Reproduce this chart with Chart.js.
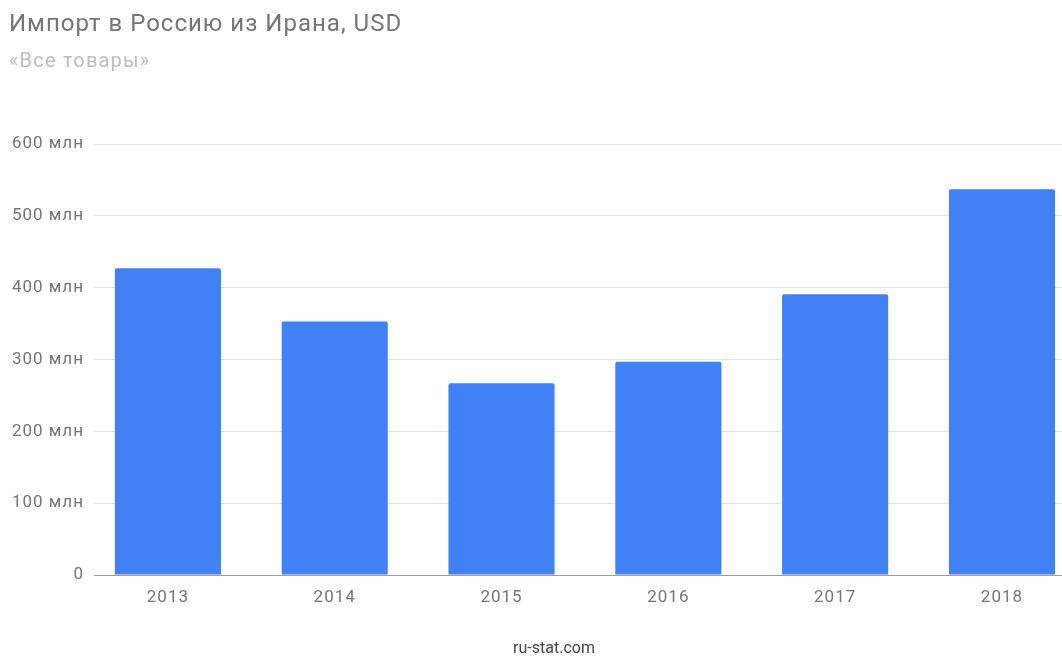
<!DOCTYPE html>
<html>
<head>
<meta charset="utf-8">
<script src="https://cdn.jsdelivr.net/npm/chart.js@4/dist/chart.umd.min.js"></script>
<style>
html,body{margin:0;padding:0;background:#fff;overflow:hidden;}
#wrap{position:relative;width:1062px;height:657px;}
</style>
</head>
<body>
<div id="wrap"><canvas id="c" width="1062" height="657"></canvas></div>
<script>
const categories = ['2013', '2014', '2015', '2016', '2017', '2018'];
const importValues = [427, 353, 267, 297, 391, 537]; // millions USD
const yTickValues = [0, 100, 200, 300, 400, 500, 600];
const titleText = 'Импорт в Россию из Ирана, USD';
const subtitleText = '«Все товары»';
const footerText = 'ru-stat.com';

const points = categories.map((c, i) => ({x: i, y: importValues[i]}));

const textPlugin = {
  id: 'texts',
  beforeDraw(chart) {
    chart.ctx.letterSpacing = '1px';
  },
  afterDraw(chart) {
    const ctx = chart.ctx;
    ctx.save();
    ctx.textBaseline = 'middle';
    ctx.textAlign = 'left';
    ctx.letterSpacing = '1px';
    ctx.fillStyle = '#757575';
    ctx.font = '24px Roboto';
    ctx.fillText(titleText, 9, 25);
    ctx.letterSpacing = '1.2px';
    ctx.fillStyle = '#bdbdbd';
    ctx.font = '20px Roboto';
    ctx.fillText(subtitleText, 9, 62);
    ctx.letterSpacing = '0px';
    ctx.fillStyle = '#444444';
    ctx.font = '16px Roboto';
    ctx.textAlign = 'center';
    ctx.fillText(footerText, 554, 649);
    ctx.restore();
  }
};

new Chart(document.getElementById('c'), {
  type: 'bar',
  data: {
    datasets: [{
      data: points,
      backgroundColor: '#4280f5',
      borderRadius: 2,
      borderSkipped: 'bottom',
      barPercentage: 0.636,
      categoryPercentage: 1
    }]
  },
  options: {
    responsive: false,
    animation: false,
    layout: {padding: {left: 0, right: 0, top: 144, bottom: 0}},
    plugins: {legend: {display: false}, tooltip: {enabled: false}, title: {display: false}},
    scales: {
      x: {
        type: 'linear',
        offset: false,
        min: -0.443,
        max: 5.36,
        afterFit: s => { s.height = 82; },
        afterBuildTicks: s => { s.ticks = categories.map((c, i) => ({value: i})); },
        grid: {display: false, drawTicks: false, offset: false},
        border: {display: true, color: '#9e9e9e', width: 1},
        ticks: {
          callback: v => categories[v],
          color: '#757575',
          font: {family: 'Roboto', size: 17},
          padding: 13,
          maxRotation: 0,
          autoSkip: false
        }
      },
      y: {
        min: 0,
        max: 600,
        afterFit: s => { s.width = 94; },
        afterBuildTicks: s => { s.ticks = yTickValues.map(v => ({value: v})); },
        grid: {color: '#e3e3e3', drawTicks: false, lineWidth: 1},
        border: {display: false},
        ticks: {
          callback: v => v === 0 ? '0' : v + ' млн',
          color: '#757575',
          font: {family: 'Roboto', size: 17},
          padding: 10
        }
      }
    }
  },
  plugins: [textPlugin]
});
</script>
</body>
</html>
